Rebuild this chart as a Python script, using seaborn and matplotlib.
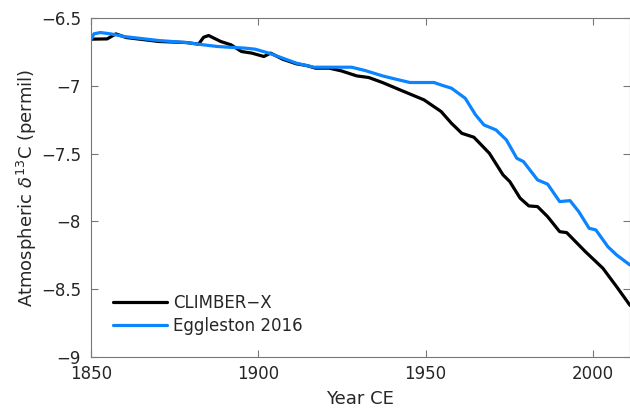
import matplotlib
matplotlib.use("Agg")
import matplotlib.pyplot as plt
import matplotlib.ticker as mticker
import pandas as pd
import seaborn as sns

# CLIMBER-X model, atmospheric d13C (permil)
climber_year = [1850, 1854.9, 1857.5, 1860.6, 1870.3, 1878.6, 1882.2, 1883.7, 1885.2,
                1888.8, 1891.9, 1895, 1898.1, 1901.7, 1903.7, 1907.3, 1911.4, 1914.5,
                1917.1, 1921.2, 1924.8, 1929.4, 1933, 1937.1, 1942.3, 1945.9, 1949.5,
                1954.6, 1957.7, 1960.8, 1964.4, 1969, 1973.1, 1975.1, 1978.2, 1980.8,
                1983.4, 1986.4, 1990, 1992.1, 1997.7, 2002.9, 2007, 2011]
climber_d13c = [-6.655, -6.653, -6.616, -6.643, -6.672, -6.68, -6.692, -6.641, -6.628,
                -6.672, -6.697, -6.746, -6.758, -6.783, -6.758, -6.803, -6.837, -6.85,
                -6.869, -6.869, -6.889, -6.926, -6.938, -6.975, -7.029, -7.066, -7.103,
                -7.189, -7.276, -7.35, -7.379, -7.497, -7.657, -7.706, -7.829, -7.886,
                -7.891, -7.965, -8.076, -8.083, -8.224, -8.346, -8.482, -8.62]

# Eggleston et al. 2016 reconstruction
eggl_year = [1850, 1851, 1852.9, 1856, 1860.1, 1870.3, 1878.6, 1883.7, 1887.8, 1890.9,
             1896, 1899.1, 1903.2, 1907.3, 1911.4, 1916.6, 1921.7, 1927.9, 1932, 1937.1,
             1941.2, 1945.3, 1952.5, 1954.6, 1957.7, 1961.8, 1964.9, 1967.4, 1971,
             1974.1, 1977.2, 1979.2, 1983.4, 1986.4, 1990, 1993.1, 1995.7, 1998.8,
             2000.8, 2004.4, 2007, 2011]
eggl_d13c = [-6.66, -6.615, -6.606, -6.616, -6.636, -6.665, -6.68, -6.697, -6.709, -6.714,
             -6.721, -6.729, -6.758, -6.795, -6.832, -6.862, -6.862, -6.862, -6.887, -6.926,
             -6.951, -6.975, -6.975, -6.993, -7.017, -7.091, -7.214, -7.288, -7.325,
             -7.399, -7.534, -7.559, -7.694, -7.725, -7.854, -7.847, -7.928, -8.051,
             -8.063, -8.187, -8.248, -8.322]

df = pd.concat([
    pd.DataFrame({'year': climber_year, 'd13c': climber_d13c, 'source': 'CLIMBER\u2212X'}),
    pd.DataFrame({'year': eggl_year, 'd13c': eggl_d13c, 'source': 'Eggleston 2016'}),
])

sns.set_style('ticks')
plt.rcParams['font.family'] = ['DejaVu Sans']

fig = plt.figure(figsize=(6.3, 4.13), dpi=100)
ax = fig.add_axes([0.144, 0.136, 0.856, 0.820])

sns.lineplot(data=df, x='year', y='d13c', hue='source',
             palette={'CLIMBER\u2212X': 'black', 'Eggleston 2016': '#0a84ff'},
             linewidth=2.3, ax=ax)

ax.set_xlim(1850, 2011)
ax.set_ylim(-9, -6.5)
ax.set_xticks([1850, 1900, 1950, 2000])
ax.set_yticks([-9, -8.5, -8, -7.5, -7, -6.5])
ax.yaxis.set_major_formatter(mticker.FuncFormatter(lambda v, p: f'{v:g}'.replace('-', '\u2212')))

for s in ax.spines.values():
    s.set_visible(True)
    s.set_color('#777777')
    s.set_linewidth(0.8)
ax.tick_params(direction='in', top=True, right=True, length=5, width=0.8,
               color='#777777', labelsize=12, labelcolor='#262626')
ax.tick_params(axis='x', pad=6)
ax.tick_params(axis='y', pad=7)

ax.set_xlabel('Year CE', fontsize=13, color='#262626', labelpad=5)
ax.set_ylabel(r'Atmospheric $\delta^{13}$C (permil)', fontsize=13, color='#262626',
              labelpad=1)

leg = ax.legend(loc='lower left', bbox_to_anchor=(0.02, 0.03), frameon=False,
                fontsize=12, handlelength=3.2, handletextpad=0.4,
                labelspacing=0.3, borderaxespad=0.3)
for line in leg.get_lines():
    line.set_linewidth(2.3)

fig.savefig('out.png', dpi=100)
